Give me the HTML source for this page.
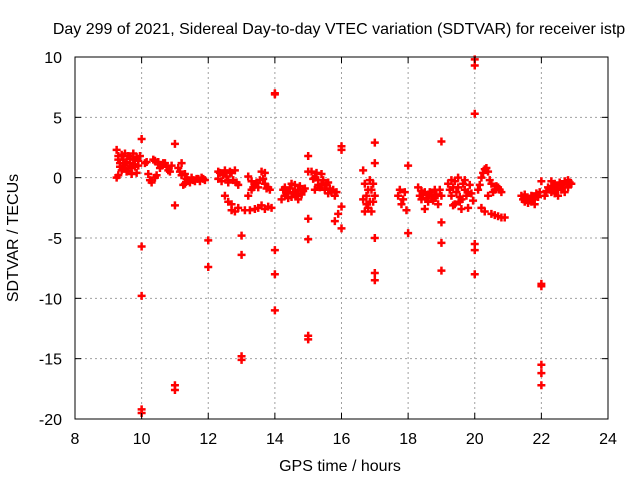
<!DOCTYPE html>
<html><head><meta charset="utf-8"><style>
body{margin:0;background:#fff}
svg text{font-family:"Liberation Sans",sans-serif;font-size:16px;fill:#000}
</style></head><body>
<svg id="chart" width="640" height="480" viewBox="0 0 640 480" xmlns="http://www.w3.org/2000/svg">
<rect width="640" height="480" fill="#fff"/>
<text x="339" y="34" text-anchor="middle">Day 299 of 2021, Sidereal Day-to-day VTEC variation (SDTVAR) for receiver istp</text>
<g id="grid"></g>
<g id="marks"></g>
<rect x="75" y="57" width="533" height="362" fill="none" stroke="#000" stroke-width="1"/>
<g id="axes"></g>
<text x="340" y="471" text-anchor="middle">GPS time / hours</text>
<text x="18" y="238" text-anchor="middle" transform="rotate(-90 18 238)">SDTVAR / TECUs</text>
</svg>
<script>
const xTicks=[8,10,12,14,16,18,20,22,24];
const yTicks=[10,5,0,-5,-10,-15,-20];
const times=[
9.25,9.3,9.35,9.4,9.3,9.45,9.5,9.55,9.6,9.65,9.7,9.75,9.8,9.85,9.9,9.95,9.5,9.7,9.25,9.4,9.35,9.55,9.6,9.8,9.9,9.45,9.65,9.75,9.85,9.3,
10,10,10,10,10,
10.1,10.2,10.3,10.4,10.5,10.6,10.7,10.8,10.9,10.35,10.55,10.15,10.25,10.45,10.65,10.75,10.85,10.4,10.5,
11,11,11,11,
11.1,11.2,11.3,11.4,11.5,11.6,11.7,11.8,11.9,11.2,11.25,11.15,11.35,11.45,11.55,11.65,11.75,11.85,11.3,
12,12,
12.3,12.4,12.5,12.6,12.7,12.8,12.5,12.7,12.8,12.9,12.6,12.35,12.45,12.55,12.65,12.75,12.85,12.9,12.3,12.6,12.7,
13,13,13,13,
13.1,13.2,13.3,13.4,13.5,13.6,13.7,13.8,13.5,13.6,13.7,13.8,13.4,13.9,13.2,13.7,13.35,13.45,13.55,13.65,13.75,13.85,13.3,13.25,
14,14,14,14,14,
14.2,14.3,14.4,14.5,14.6,14.7,14.8,14.9,14.3,14.5,14.7,14.25,14.35,14.45,14.55,14.65,14.75,14.85,14.4,14.6,14.8,
15,15,15,15,15,15,
15.1,15.2,15.3,15.4,15.5,15.6,15.7,15.8,15.2,15.4,15.8,15.9,15.15,15.25,15.35,15.45,15.55,15.65,15.75,15.3,15.6,15.85,
16,16,16,16,
16.65,16.7,16.75,16.8,16.9,16.95,16.7,16.85,16.9,17.0,16.75,16.8,16.95,16.65,16.85,
17,17,17,17,17,
17.7,17.8,17.9,17.95,17.75,17.85,
18,18,
18.3,18.4,18.5,18.6,18.7,18.8,18.9,19.0,18.5,18.35,18.45,18.55,18.65,18.75,18.85,18.95,18.4,18.6,18.8,
19,19,19,19,
19.2,19.3,19.4,19.5,19.6,19.7,19.8,19.9,19.5,19.3,19.7,19.6,19.25,19.35,19.45,19.55,19.65,19.75,19.85,19.95,19.4,19.8,19.55,19.35,
20,20,20,20,20,20,
20.1,20.2,20.3,20.4,20.5,20.6,20.7,20.3,20.5,20.7,20.9,20.4,20.8,20.2,20.15,20.25,20.35,20.45,20.55,20.65,20.6,20.8,20.75,
21.4,21.5,21.6,21.7,21.8,21.9,21.5,21.7,21.45,21.55,21.65,21.75,21.85,21.95,21.6,21.8,
22,22,22,22,22,22,
22.1,22.2,22.3,22.4,22.5,22.6,22.7,22.8,22.9,22.3,22.5,22.7,22.15,22.25,22.35,22.45,22.55,22.65,22.75,22.85,22.6,22.4,22.8
];
const values=[
2.3,1.8,1.2,0.6,0.2,1.5,1.0,0.5,1.8,1.2,0.8,2.0,1.5,0.4,1.0,1.8,2.0,0.3,0.0,1.9,0.9,1.3,0.6,0.9,1.4,0.8,1.6,1.1,1.7,1.5,
3.2,-5.7,-9.8,-19.2,-19.5,
1.2,0.3,-0.4,0.0,1.3,1.0,1.2,0.6,1.0,1.5,0.8,1.3,-0.2,0.2,1.2,0.9,0.5,1.4,1.1,
2.8,-2.3,-17.2,-17.6,
0.8,0.2,-0.5,-0.2,0.0,-0.3,-0.1,0.0,-0.2,1.2,-0.6,0.5,-0.1,-0.4,-0.2,-0.1,-0.3,-0.1,0.3,
-5.2,-7.4,
0.5,-0.3,0.6,-0.4,0.4,0.6,-1.5,-2.7,-2.8,-2.5,-0.2,0.4,0.2,0.1,0.5,-0.2,-0.4,-0.6,-0.1,-2.0,-2.2,
-4.8,-6.4,-14.8,-15.1,
-2.7,-1.5,-0.3,-0.6,-0.8,0.5,-0.5,-0.8,-2.5,-2.3,-2.6,-2.4,-2.6,-2.5,0.1,0.4,-0.8,-0.4,-0.2,-0.1,-0.9,-1.0,-1.0,-2.7,
7.0,6.9,-6.0,-8.0,-11.0,
-1.8,-0.8,-1.2,-1.6,-0.6,-1.0,-1.4,-0.9,-1.5,-0.5,-1.8,-1.0,-1.3,-0.9,-1.2,-1.5,-0.7,-1.1,-1.7,-1.4,-1.3,
1.8,0.5,-3.4,-5.1,-13.1,-13.4,
0.5,0.0,-0.2,-0.5,-1.0,-0.4,-1.2,-1.5,-1.0,0.3,-3.6,-3.0,-0.1,0.4,-0.8,-0.2,-0.6,-0.9,-1.0,-0.6,-1.3,-1.2,
2.6,2.3,-2.4,-4.2,
0.6,-0.5,-1.5,-2.5,-1.0,-2.0,-2.8,-0.2,-2.8,-1.5,-2.2,-1.0,-0.5,-1.8,-2.0,
2.9,1.2,-5.0,-7.9,-8.5,
-1.5,-2.2,-1.2,-2.7,-1.0,-1.8,
1.0,-4.6,
-0.8,-1.8,-1.2,-2.0,-1.5,-1.0,-2.2,-1.5,-2.6,-1.5,-1.3,-1.7,-1.2,-1.9,-1.4,-1.0,-1.1,-1.4,-1.7,
3.0,-3.7,-5.4,-7.7,
-0.5,-1.5,-2.2,-0.8,-1.8,-1.0,-2.5,-1.3,0.0,-0.2,-0.2,-2.6,-1.0,-0.8,-1.2,-1.6,-0.5,-1.5,-0.6,-1.9,-0.3,-1.2,-2.0,-2.3,
9.8,9.3,5.3,-5.5,-6.0,-8.0,
-1.0,0.0,0.7,0.5,-0.5,-1.0,-0.8,-2.8,-3.0,-3.2,-3.3,-1.5,-1.2,-2.5,-0.6,0.4,0.8,-0.2,-1.2,-0.7,-3.1,-3.3,-1.0,
-1.5,-2.0,-1.8,-1.5,-2.2,-1.6,-1.4,-2.0,-1.8,-1.7,-1.9,-1.8,-1.3,-1.2,-2.1,-1.6,
-0.3,-8.8,-9.0,-15.5,-16.2,-17.2,
-1.5,-0.8,-1.2,-0.5,-1.0,-0.6,-0.3,-0.8,-0.5,-0.3,-1.5,-1.2,-1.1,-1.0,-0.7,-0.9,-0.4,-0.8,-0.5,-0.4,-1.0,-1.3,-0.2
];
const NS="http://www.w3.org/2000/svg";
const X0=75,X1=608,Y0=419,Y1=57;
function xs(t){return X0+(t-8)/(24-8)*(X1-X0);}
function ys(v){return Y0-(v+20)/30*(Y0-Y1);}
const grid=document.getElementById('grid'),axes=document.getElementById('axes'),marks=document.getElementById('marks');
function ln(p,x1,y1,x2,y2,st,dash){const l=document.createElementNS(NS,'line');l.setAttribute('x1',x1);l.setAttribute('y1',y1);l.setAttribute('x2',x2);l.setAttribute('y2',y2);l.setAttribute('stroke',st);if(dash)l.setAttribute('stroke-dasharray',dash);p.appendChild(l);return l;}
xTicks.forEach(t=>{const x=xs(t);
 if(t>8&&t<24){const g=ln(grid,x,Y0,x,Y1,'#a0a0a0','2,3');
 
 }
 ln(axes,x,Y0,x,Y0-6,'#000');ln(axes,x,Y1,x,Y1+6,'#000');
 const tx=document.createElementNS(NS,'text');tx.setAttribute('x',x);tx.setAttribute('y',Y0+25);tx.setAttribute('text-anchor','middle');tx.textContent=t;
 
 
 axes.appendChild(tx);});
yTicks.forEach(v=>{const y=ys(v);
 if(v>-20&&v<10){const g=ln(grid,X0,y,X1,y,'#a0a0a0','2,3');
 
 }
 ln(axes,X0,y,X0+6,y,'#000');ln(axes,X1,y,X1-6,y,'#000');
 const tx=document.createElementNS(NS,'text');tx.setAttribute('x',X0-13);tx.setAttribute('y',y+6);tx.setAttribute('text-anchor','end');tx.textContent=v;
 
 
 axes.appendChild(tx);});
times.forEach((t,i)=>{const x=xs(t),y=ys(values[i]);
 const p=document.createElementNS(NS,'path');
 p.setAttribute('d',`M${x-4},${y}H${x+4}M${x},${y-4}V${y+4}`);
 p.setAttribute('stroke','#ff0000');p.setAttribute('stroke-width','2.5');
 
 
 marks.appendChild(p);});
</script>
</body></html>
